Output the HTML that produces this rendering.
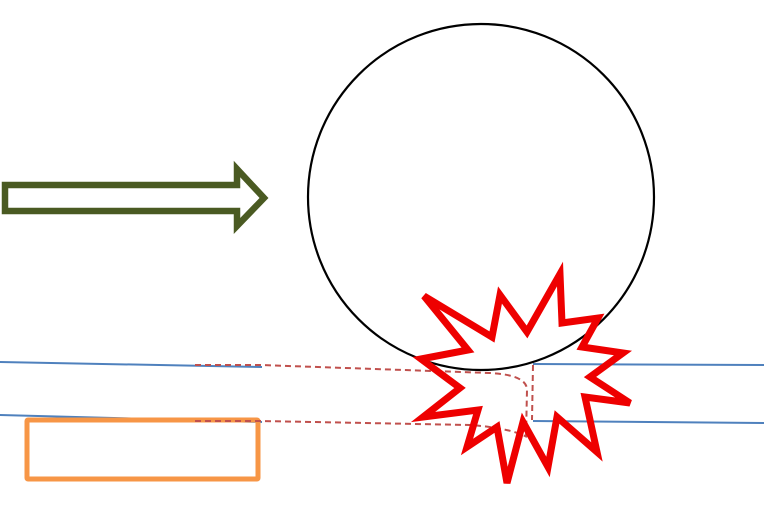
<!DOCTYPE html>
<html><head><style>html,body{margin:0;padding:0;background:#fff;width:764px;height:510px;overflow:hidden}</style></head>
<body>
<svg width="764" height="510" viewBox="0 0 764 510" xmlns="http://www.w3.org/2000/svg">
<polygon points="5,185 237,185 237,169 264,198 237,226 237,211 5,211" fill="#fff" stroke="#4a5a22" stroke-width="6.5" stroke-linejoin="miter"/>
<circle cx="481" cy="197" r="173" fill="#fff" stroke="#000" stroke-width="2.2"/>
<g stroke="#4f81bd" stroke-width="2" fill="none">
<line x1="0" y1="362" x2="262" y2="367"/>
<line x1="0" y1="415" x2="262" y2="422"/>
<line x1="533" y1="364" x2="764" y2="365"/>
<line x1="533" y1="421" x2="764" y2="423"/>
</g>
<rect x="27" y="420" width="231" height="59" fill="none" stroke="#f79646" stroke-width="5" rx="1"/>
<g stroke="#c0504d" stroke-width="2" fill="none" stroke-dasharray="6,4">
<path d="M195,365 L260,365 L490,373 Q527,375 527,390 L526,436"/>
<path d="M195,421 L260,421 L470,425 Q510,428 527,437"/>
<line x1="533" y1="365" x2="532" y2="420"/>
</g>
<polygon fill="none" stroke="#ee0000" stroke-width="7" stroke-linejoin="miter"
points="424,296 468,350 421,359 460,388 423,417 478,410 467,447 497,427 507,483 523,422 548,467 557,417 597,452 585,397 630,403 590,377 623,353 582,347 598,318 562,323 560,274 527,332 500,295 492,337"/>
</svg>
</body></html>
